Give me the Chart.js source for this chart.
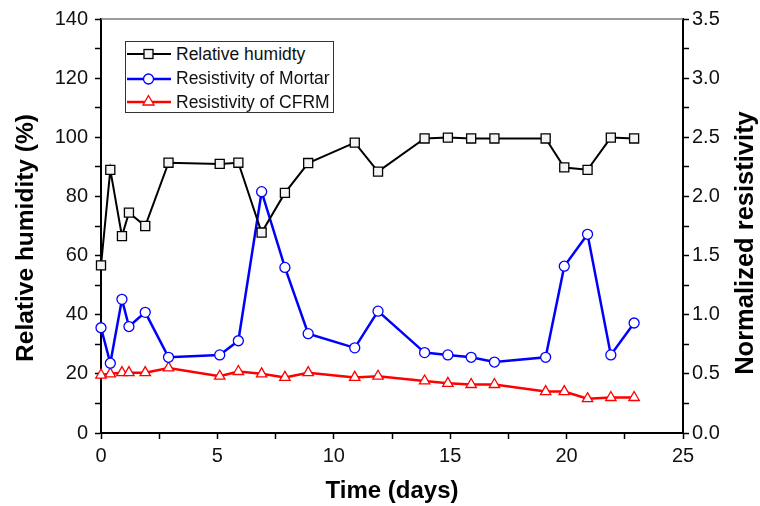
<!DOCTYPE html>
<html>
<head>
<meta charset="utf-8">
<script src="https://cdn.jsdelivr.net/npm/chart.js@4.4.0/dist/chart.umd.min.js"></script>
<style>
  html, body { margin: 0; padding: 0; background: #fff; }
  #wrap { position: relative; width: 760px; height: 506px; }
  #legend {
    position: absolute; left: 125px; top: 41px; width: 209px; height: 72px;
    border: 1px solid #333; background: #fff; box-sizing: border-box;
    font-family: "Liberation Sans", Arial, sans-serif; font-size: 17.5px; color: #111;
  }
  .row { position: absolute; left: 0; height: 24px; display: flex; align-items: center; }
  .row svg { display: block; margin-left: 0; }
  .row span { margin-left: 4px; white-space: nowrap; }
</style>
</head>
<body>
<div id="wrap">
  <canvas id="rhChart" width="760" height="506"></canvas>
  <div id="legend">
    <div class="row" style="top:0px">
      <svg width="46" height="24"><line x1="1" y1="12" x2="45" y2="12" stroke="#000" stroke-width="2"/><rect x="18" y="7.5" width="9" height="9" fill="#f4f4f4" stroke="#000" stroke-width="1.3"/></svg>
      <span>Relative humidty</span>
    </div>
    <div class="row" style="top:24.5px">
      <svg width="46" height="24"><line x1="1" y1="12" x2="45" y2="12" stroke="#0000ff" stroke-width="2.5"/><circle cx="22.5" cy="12" r="5" fill="#fff" stroke="#0000ff" stroke-width="1.3"/></svg>
      <span>Resistivity of Mortar</span>
    </div>
    <div class="row" style="top:48px">
      <svg width="46" height="24"><line x1="1" y1="12" x2="45" y2="12" stroke="#ff0000" stroke-width="2.5"/><polygon points="22.5,5.5 28,15 17,15" fill="#fff" stroke="#ff0000" stroke-width="1.3"/></svg>
      <span>Resistivity of CFRM</span>
    </div>
  </div>
</div>
<script>
// values
const days = [0, 0.4, 0.9, 1.2, 1.9, 2.9, 5.1, 5.9, 6.9, 7.9, 8.9, 10.9, 11.9, 13.9, 14.9, 15.9, 16.9, 19.1, 19.9, 20.9, 21.9, 22.9];
const humidity = [56.7, 89.0, 66.6, 74.5, 70.0, 91.4, 91.0, 91.4, 67.8, 81.2, 91.3, 98.2, 88.4, 99.6, 99.9, 99.6, 99.6, 99.6, 89.8, 89.0, 99.9, 99.6];
const mortar = [0.89, 0.59, 1.13, 0.90, 1.02, 0.64, 0.66, 0.78, 2.04, 1.40, 0.84, 0.72, 1.03, 0.68, 0.66, 0.64, 0.60, 0.64, 1.41, 1.68, 0.66, 0.93];
const cfrm = [0.49, 0.50, 0.51, 0.51, 0.51, 0.55, 0.48, 0.52, 0.50, 0.47, 0.51, 0.47, 0.48, 0.44, 0.42, 0.41, 0.41, 0.35, 0.35, 0.29, 0.30, 0.30];

const leftTitle = 'Relative humidity (%)';
const rightTitle = 'Normalized resistivity';
const xTitle = 'Time (days)';

const FONT = '"Liberation Sans", Arial, sans-serif';

const toPoints = (ys) => days.map((d, i) => ({ x: d, y: ys[i] }));

// vertical titles both read bottom-to-top, plus the grey top frame line
const framePlugin = {
  id: 'frame',
  afterDraw(chart) {
    const { ctx, chartArea: a } = chart;
    ctx.save();
    ctx.strokeStyle = '#7a7a7a';
    ctx.lineWidth = 1.5;
    ctx.beginPath();
    ctx.moveTo(a.left, a.top);
    ctx.lineTo(a.right, a.top);
    ctx.stroke();

    ctx.fillStyle = '#000';
    ctx.font = 'bold 24.5px ' + FONT;
    ctx.textAlign = 'center';
    ctx.textBaseline = 'middle';
    ctx.translate(26, 238);
    ctx.rotate(-Math.PI / 2);
    ctx.fillText(leftTitle, 0, 0);
    ctx.restore();

    ctx.save();
    ctx.fillStyle = '#000';
    ctx.font = 'bold 25.5px ' + FONT;
    ctx.textAlign = 'center';
    ctx.textBaseline = 'middle';
    ctx.translate(746, 243);
    ctx.rotate(-Math.PI / 2);
    ctx.fillText(rightTitle, 0, 0);
    ctx.restore();
  }
};

const tickFont = { family: FONT, size: 20 };
const axisGrid = { display: true, drawOnChartArea: false, drawTicks: true, tickLength: 6, tickWidth: 1.5, tickColor: '#000' };

new Chart(document.getElementById('rhChart'), {
  type: 'line',
  data: {
    datasets: [
      {
        label: 'Relative humidty',
        data: toPoints(humidity),
        yAxisID: 'y',
        borderColor: '#000',
        borderWidth: 2,
        pointStyle: 'rect',
        pointRadius: 6.4,
        pointBorderWidth: 1.3,
        pointBackgroundColor: '#f4f4f4',
        pointBorderColor: '#000',
        tension: 0,
        clip: false
      },
      {
        label: 'Resistivity of Mortar',
        data: toPoints(mortar),
        yAxisID: 'y2',
        borderColor: '#0000ff',
        borderWidth: 2.5,
        pointStyle: 'circle',
        pointRadius: 5,
        pointBorderWidth: 1.3,
        pointBackgroundColor: '#fff',
        pointBorderColor: '#0000ff',
        tension: 0,
        clip: false
      },
      {
        label: 'Resistivity of CFRM',
        data: toPoints(cfrm),
        yAxisID: 'y2',
        borderColor: '#ff0000',
        borderWidth: 2.5,
        pointStyle: 'triangle',
        pointRadius: 6,
        pointBorderWidth: 1.3,
        pointBackgroundColor: '#fff',
        pointBorderColor: '#ff0000',
        tension: 0,
        clip: false
      }
    ]
  },
  options: {
    responsive: false,
    animation: false,
    layout: { padding: { top: 18, left: 0, right: 0, bottom: 0 } },
    plugins: { legend: { display: false }, tooltip: { enabled: false } },
    scales: {
      x: {
        type: 'linear',
        min: 0, max: 25,
        border: { display: true, color: '#000', width: 2 },
        grid: axisGrid,
        ticks: {
          stepSize: 2.5, autoSkip: false, maxRotation: 0, padding: 5,
          color: '#111', font: tickFont,
          callback: (v) => (v % 5 === 0 ? String(v) : '')
        },
        title: { display: true, text: xTitle, color: '#000', font: { family: FONT, size: 24, weight: 'bold' }, padding: { top: 0, bottom: 0 } },
        afterFit: (s) => { s.height = 73; }
      },
      y: {
        position: 'left',
        min: 0, max: 140,
        border: { display: true, color: '#000', width: 2 },
        grid: axisGrid,
        ticks: {
          stepSize: 10, autoSkip: false, padding: 7,
          color: '#111', font: tickFont,
          callback: (v) => (v % 20 === 0 ? String(v) : '')
        },
        afterFit: (s) => { s.width = 101; }
      },
      y2: {
        position: 'right',
        min: 0, max: 3.5,
        border: { display: true, color: '#000', width: 2 },
        grid: axisGrid,
        ticks: {
          stepSize: 0.25, autoSkip: false, padding: 3,
          color: '#111', font: tickFont,
          callback: (v) => (Math.abs(v * 2 - Math.round(v * 2)) < 1e-6 ? v.toFixed(1) : '')
        },
        afterFit: (s) => { s.width = 77; }
      }
    }
  },
  plugins: [framePlugin]
});
</script>
</body>
</html>
